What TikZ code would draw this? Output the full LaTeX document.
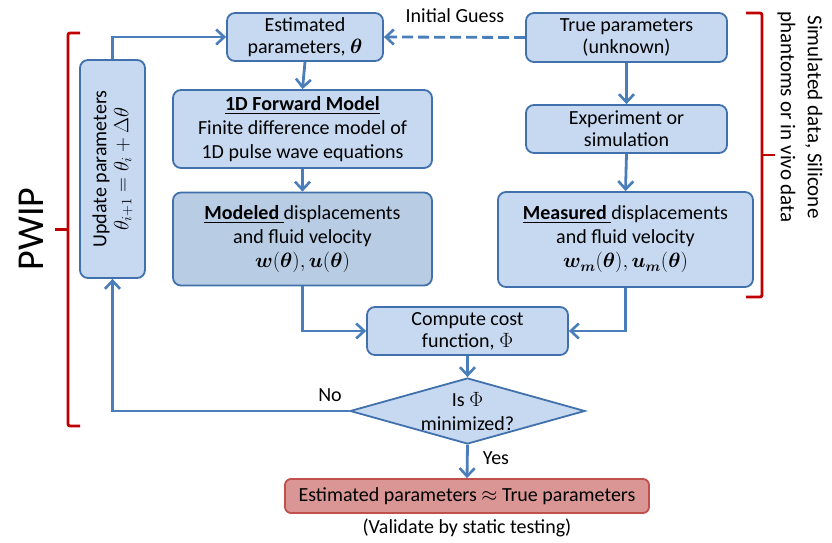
\documentclass[tikz,border=0pt]{standalone}
\usepackage{amsmath,amssymb,bm}
\usepackage{fontspec}
\setmainfont{Carlito}
\usetikzlibrary{shapes.geometric,arrows.meta}
\definecolor{boxfill}{RGB}{198,217,241}
\definecolor{boxdark}{RGB}{184,204,228}
\definecolor{boxline}{RGB}{65,113,172}
\definecolor{arr}{RGB}{74,126,187}
\definecolor{redfill}{RGB}{217,150,148}
\definecolor{redline}{RGB}{192,80,77}
\definecolor{brk}{RGB}{192,0,0}
\begin{document}
\begin{tikzpicture}[x=1bp,y=-1bp,
  every node/.style={font=\fontsize{20bp}{22bp}\selectfont},
  wide/.style={font=\fontsize{20bp}{24bp}\selectfont},
  bx/.style={draw=boxline,fill=boxfill,line width=1.8bp,rounded corners=8bp,align=center,inner sep=0pt},
  conn/.style={draw=arr,line width=2.8bp,-{Straight Barb[length=8bp,width=15bp,line width=2.6bp]}},
  brace/.style={draw=brk,line width=2.8bp,rounded corners=2bp}]
\useasboundingbox (0,0) rectangle (832,543);
% nodes
\node[bx,minimum width=156bp,minimum height=48bp] (est) at (305,37) {Estimated\\parameters, $\bm{\theta}$};
\node[bx,minimum width=201bp,minimum height=49bp] (truep) at (626.5,37.5) {True parameters\\(unknown)};
\node[bx,wide,minimum width=259bp,minimum height=78bp] (fwd) at (302.5,129) {\underline{\textbf{1D Forward Model}}\\Finite difference model of\\1D pulse wave equations};
\node[bx,wide,fill=boxdark,minimum width=259bp,minimum height=93bp] (model) at (302.5,239) {\underline{\textbf{Modeled} }displacements\\and fluid velocity\\$\bm{w}(\bm{\theta}),\bm{u}(\bm{\theta})$};
\node[bx,minimum width=218bp,minimum height=65bp,rotate=90] (upd) at (112.5,169) {Update parameters\\$\theta_{i+1}=\theta_i+\Delta\theta$};
\node[bx,minimum width=201bp,minimum height=48bp] (exp) at (626.5,129) {Experiment or\\simulation};
\node[bx,wide,minimum width=255bp,minimum height=95bp] (meas) at (625.5,239.5) {\underline{\textbf{Measured} }displacements\\and fluid velocity\\$\bm{w_m}(\bm{\theta}),\bm{u_m}(\bm{\theta})$};
\node[bx,minimum width=201bp,minimum height=48bp] (cost) at (467.5,331) {Compute cost\\function, $\Phi$};
\node[diamond,draw=boxline,fill=boxfill,line width=1.8bp,minimum width=235bp,minimum height=66bp,inner sep=0pt,aspect=3.56] (dec) at (467.5,411) {};
\node[align=center,wide] (dectext) at (467.5,412) {Is $\Phi$\\minimized?};
\node[bx,draw=redline,fill=redfill,rounded corners=6bp,minimum width=364bp,minimum height=34bp] (final) at (467,496) {Estimated parameters $\approx$ True parameters};
\node (valid) at (467,528) {(Validate by static testing)};
\node (guess) at (455,16) {Initial Guess};
\node (no) at (330,395) {No};
\node (yes) at (496,458) {Yes};
\node[rotate=90,font=\fontsize{38bp}{40bp}\selectfont] (pwip) at (31,229) {PWIP};
\node[rotate=-90,align=center,font=\fontsize{21bp}{27bp}\selectfont] (sim) at (800,117) {Simulated data, Silicone\\phantoms or in vivo data};
% connectors
\draw[conn,dashed,dash pattern=on 11bp off 5bp] (truep.west) -- (est.east);
\draw[conn] (est.south) -- (fwd.north);
\draw[conn] (fwd.south) -- (model.north);
\draw[conn] (truep.south) -- (exp.north);
\draw[conn] (exp.south) -- (meas.north);
\draw[conn] (model.south) |- (cost.west);
\draw[conn] (meas.south) |- (cost.east);
\draw[conn] (cost.south) -- (dec.north);
\draw[conn] (dec.south) -- (final.north);
\draw[conn] (dec.west) -| (upd.west);
\draw[conn] (upd.east) |- (est.west);
% braces
\coordinate (lb1) at (80,33);
\coordinate (lb2) at (80,426);
\coordinate (lbm) at (55,229.5);
\draw[brace] (lb1) -- (68,33) -- (68,426) -- (lb2);
\draw[brace] (68,229.5) -- (lbm);
\coordinate (rb1) at (746,13);
\coordinate (rb2) at (746,297);
\coordinate (rbm) at (775,155);
\draw[brace] (rb1) -- (762,13) -- (762,297) -- (rb2);
\draw[brace] (762,155) -- (rbm);
\end{tikzpicture}
\end{document}
